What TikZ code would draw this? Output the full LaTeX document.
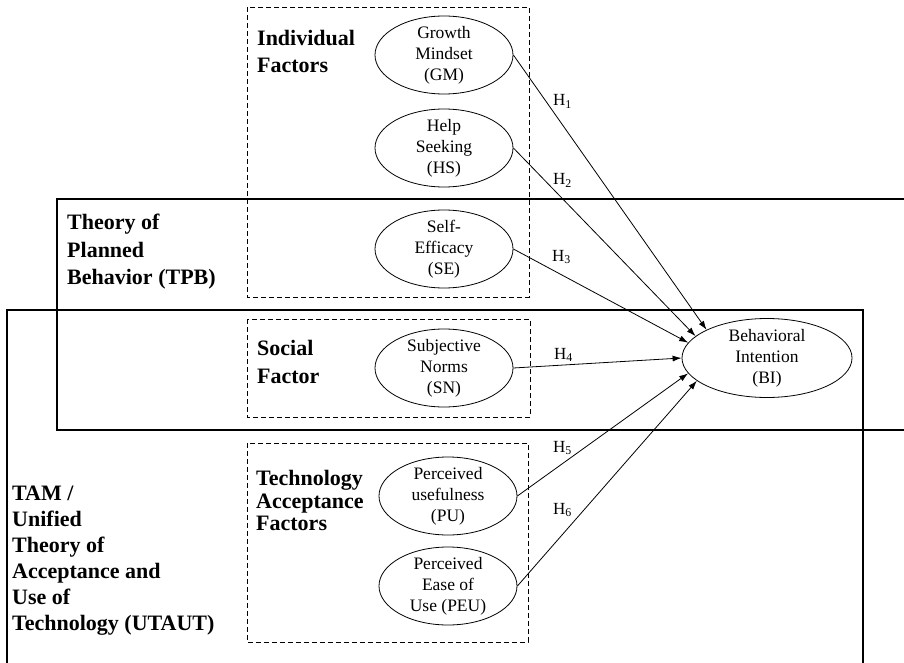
\documentclass[tikz,border=0pt]{standalone}
\usepackage{fontspec}
\setmainfont{Liberation Serif}
\usetikzlibrary{arrows.meta,shapes.geometric,positioning}

\tikzset{
	factor/.style={draw, ellipse, line width=0.8pt, minimum width=138pt,
		minimum height=78pt, inner sep=-4pt, align=center,
		font=\fontsize{17.5}{21}\selectfont},
	grouplabel/.style={anchor=base west, align=left, inner sep=0pt},
	groupbox/.style={draw, dash pattern=on 5pt off 3pt, line width=0.9pt},
	theorybox/.style={draw, line width=1.1pt},
	hyp/.style={-{Latex[length=9pt,width=6pt]}, line width=0.8pt},
	hlabel/.style={anchor=base west, inner sep=0pt, font=\fontsize{17}{20}\selectfont}
}

\begin{document}
\begin{tikzpicture}[x=1pt,y=-1pt]
			\useasboundingbox (0,0) rectangle (904,663);
			% theory frames
			\draw[theorybox] (904,199) -- (57,199) -- (57,430) -- (904,430);
			\draw[theorybox] (7,663) -- (7,310) -- (863,310) -- (863,663);
			% factor groups (base = last line)
			\draw[groupbox] (247,7) rectangle (529,297);
			\draw[groupbox] (247,319) rectangle (530,417);
			\draw[groupbox] (247,443) rectangle (528,642);
			\node[grouplabel, font=\bfseries\fontsize{22}{27.5}\selectfont] (tpb) at (67,284.5)
				{Theory of\\Planned\\Behavior (TPB)};
			\node[grouplabel, font=\bfseries\fontsize{22}{26}\selectfont] (tam) at (12,630.5)
				{TAM /\\Unified\\Theory of\\Acceptance and\\Use of\\Technology (UTAUT)};
			\node[grouplabel, font=\bfseries\fontsize{22}{27}\selectfont] (indiv) at (257,72.5)
				{Individual\\Factors};
			\node[grouplabel, font=\bfseries\fontsize{22}{28}\selectfont] (social) at (257,383.5)
				{Social\\Factor};
			\node[grouplabel, font=\bfseries\fontsize{22}{22.5}\selectfont] (tech) at (256,530.5)
				{Technology\\Acceptance\\Factors};
			% constructs
			\node[factor] (gm) at (444,55) {Growth\\Mindset\\(GM)};
			\node[factor] (hs) at (444,148) {Help\\Seeking\\(HS)};
			\node[factor] (se) at (444,249) {Self-\\Efficacy\\(SE)};
			\node[factor] (sn) at (444,368) {Subjective\\Norms\\(SN)};
			\node[factor] (pu) at (448,496) {Perceived\\usefulness\\(PU)};
			\node[factor] (peu) at (448,586) {Perceived\\Ease of\\Use (PEU)};
			\node[factor, minimum width=170pt, minimum height=79pt] (bi) at (767,358)
				{Behavioral\\Intention\\(BI)};
			% hypotheses
			\draw[hyp] (gm.east) -- (bi.155.7);
			\draw[hyp] (hs.east) -- (bi.163);
			\draw[hyp] (se.east) -- (bi.169.4);
			\draw[hyp] (sn.east) -- (bi.west);
			\draw[hyp] (pu.east) -- (bi.191.3);
			\draw[hyp] (peu.east) -- (bi.198);
			\node[hlabel] (h1) at (553,106) {H\textsubscript{1}};
			\node[hlabel] (h2) at (553,185) {H\textsubscript{2}};
			\node[hlabel] (h3) at (552,261) {H\textsubscript{3}};
			\node[hlabel] (h4) at (554,359) {H\textsubscript{4}};
			\node[hlabel] (h5) at (553,452) {H\textsubscript{5}};
			\node[hlabel] (h6) at (553,514) {H\textsubscript{6}};
		\end{tikzpicture}
\end{document}
